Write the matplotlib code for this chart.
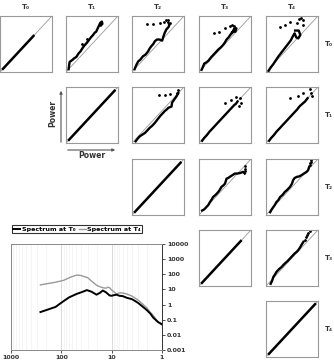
import matplotlib
matplotlib.use('Agg')
import matplotlib.pyplot as plt

# spectrum data (period vs power)
period_t0 = [260, 130, 95, 70, 50, 40, 31, 25, 20, 17, 15, 13, 11, 10, 9, 8, 7, 6, 5, 4, 3.5, 3, 2.5, 2, 1.7, 1.5, 1.3, 1.2, 1.1, 1.0]
power_t0 = [0.32, 0.7, 1.5, 3.0, 5.0, 6.5, 9.0, 7.0, 4.5, 6.0, 8.5, 6.5, 4.0, 3.8, 4.2, 4.5, 3.8, 3.6, 2.8, 2.3, 1.8, 1.3, 0.8, 0.43, 0.25, 0.14, 0.09, 0.07, 0.06, 0.05]
period_t4 = [260, 130, 90, 65, 50, 42, 35, 30, 25, 20, 17, 15, 13, 12, 11, 10, 9, 8, 7, 6, 5, 4, 3.5, 3, 2.5, 2, 1.7, 1.5, 1.3, 1.2, 1.1, 1.0]
power_t4 = [20, 30, 40, 65, 88, 85, 70, 60, 35, 19, 15, 13, 12, 14, 13, 9, 7, 5, 6, 5.8, 5, 3.7, 2.8, 2.0, 1.2, 0.6, 0.3, 0.2, 0.1, 0.075, 0.055, 0.045]

# pairwise power plots, normalised panel units
diag_u = [0.04, 0.95]
p01_u = [0.05, 0.06, 0.07, 0.10, 0.13, 0.15, 0.20, 0.24, 0.28, 0.32, 0.36, 0.40, 0.44, 0.48, 0.52, 0.55, 0.58, 0.60, 0.62, 0.64, 0.66, 0.69, 0.70, 0.67]
p01_v = [0.05, 0.12, 0.18, 0.20, 0.22, 0.24, 0.27, 0.33, 0.37, 0.43, 0.48, 0.52, 0.57, 0.62, 0.66, 0.70, 0.72, 0.76, 0.80, 0.84, 0.88, 0.90, 0.86, 0.83]
p01_du = [0.30, 0.40]
p01_dv = [0.50, 0.59]

p02_u = [0.05, 0.08, 0.12, 0.16, 0.21, 0.26, 0.31, 0.34, 0.37, 0.41, 0.44, 0.48, 0.53, 0.58, 0.60, 0.62, 0.66, 0.70, 0.72, 0.70]
p02_v = [0.05, 0.12, 0.19, 0.22, 0.28, 0.31, 0.37, 0.42, 0.46, 0.50, 0.55, 0.58, 0.58, 0.56, 0.62, 0.68, 0.76, 0.80, 0.84, 0.88]
p02_du = [0.28, 0.41, 0.54, 0.62, 0.66, 0.70, 0.74]
p02_dv = [0.86, 0.86, 0.87, 0.90, 0.93, 0.93, 0.88]

p03_u = [0.05, 0.08, 0.10, 0.14, 0.18, 0.23, 0.28, 0.33, 0.37, 0.42, 0.47, 0.50, 0.53, 0.57, 0.60, 0.63, 0.65, 0.70, 0.72, 0.68, 0.64]
p03_v = [0.04, 0.10, 0.15, 0.17, 0.20, 0.26, 0.31, 0.36, 0.40, 0.44, 0.49, 0.53, 0.58, 0.62, 0.66, 0.70, 0.72, 0.72, 0.78, 0.78, 0.70]
p03_du = [0.29, 0.39, 0.50, 0.60, 0.64, 0.67]
p03_dv = [0.69, 0.72, 0.78, 0.82, 0.84, 0.82]

p04_u = [0.05, 0.09, 0.14, 0.19, 0.24, 0.29, 0.34, 0.39, 0.44, 0.48, 0.50, 0.53, 0.55, 0.58, 0.62, 0.66, 0.63, 0.56]
p04_v = [0.02, 0.08, 0.14, 0.21, 0.28, 0.34, 0.40, 0.46, 0.52, 0.57, 0.61, 0.66, 0.69, 0.62, 0.60, 0.66, 0.74, 0.74]
p04_du = [0.26, 0.37, 0.47, 0.60, 0.64, 0.68, 0.72, 0.72]
p04_dv = [0.80, 0.84, 0.90, 0.87, 0.94, 0.96, 0.92, 0.84]

p12_u = [0.07, 0.11, 0.15, 0.20, 0.25, 0.30, 0.34, 0.39, 0.44, 0.49, 0.54, 0.59, 0.63, 0.67, 0.70, 0.73, 0.76, 0.77, 0.80, 0.83, 0.86, 0.89]
p12_v = [0.03, 0.08, 0.12, 0.15, 0.18, 0.23, 0.27, 0.31, 0.36, 0.42, 0.48, 0.53, 0.57, 0.60, 0.63, 0.64, 0.65, 0.72, 0.76, 0.80, 0.84, 0.89]
p12_du = [0.52, 0.63, 0.73, 0.86, 0.88]
p12_dv = [0.86, 0.86, 0.87, 0.90, 0.94]

p13_u = [0.06, 0.10, 0.15, 0.20, 0.26, 0.32, 0.38, 0.44, 0.50, 0.55, 0.60, 0.64, 0.68, 0.71, 0.74]
p13_v = [0.04, 0.09, 0.14, 0.20, 0.26, 0.32, 0.38, 0.44, 0.50, 0.55, 0.60, 0.64, 0.68, 0.70, 0.74]
p13_du = [0.50, 0.62, 0.72, 0.78, 0.80, 0.76]
p13_dv = [0.72, 0.76, 0.82, 0.80, 0.72, 0.66]

p14_u = [0.06, 0.10, 0.15, 0.20, 0.26, 0.32, 0.38, 0.44, 0.50, 0.55, 0.60, 0.65, 0.70, 0.75, 0.80]
p14_v = [0.04, 0.09, 0.14, 0.20, 0.26, 0.32, 0.38, 0.44, 0.50, 0.55, 0.60, 0.66, 0.70, 0.74, 0.80]
p14_du = [0.46, 0.62, 0.72, 0.84, 0.86, 0.88]
p14_dv = [0.80, 0.84, 0.90, 0.96, 0.90, 0.84]

p23_u = [0.06, 0.10, 0.14, 0.18, 0.21, 0.24, 0.27, 0.32, 0.37, 0.40, 0.43, 0.47, 0.50, 0.53, 0.56, 0.59, 0.64, 0.69, 0.74, 0.79, 0.85, 0.88]
p23_v = [0.08, 0.10, 0.14, 0.18, 0.23, 0.27, 0.32, 0.36, 0.41, 0.45, 0.50, 0.53, 0.56, 0.65, 0.66, 0.68, 0.71, 0.74, 0.74, 0.75, 0.77, 0.74]
p23_du = [0.88, 0.88, 0.89]
p23_dv = [0.79, 0.83, 0.87]

p24_u = [0.08, 0.11, 0.14, 0.17, 0.20, 0.24, 0.27, 0.32, 0.36, 0.41, 0.46, 0.50, 0.52, 0.55, 0.59, 0.64, 0.68, 0.73, 0.78, 0.81, 0.83]
p24_v = [0.05, 0.10, 0.14, 0.18, 0.23, 0.27, 0.32, 0.36, 0.41, 0.45, 0.50, 0.56, 0.62, 0.66, 0.68, 0.69, 0.71, 0.74, 0.77, 0.80, 0.86]
p24_du = [0.84, 0.85, 0.86, 0.87]
p24_dv = [0.89, 0.92, 0.95, 0.98]

p34_u = [0.09, 0.12, 0.14, 0.17, 0.20, 0.25, 0.30, 0.36, 0.41, 0.46, 0.51, 0.55, 0.59, 0.62, 0.65, 0.68, 0.70, 0.72]
p34_v = [0.04, 0.10, 0.16, 0.20, 0.25, 0.30, 0.34, 0.40, 0.44, 0.49, 0.54, 0.58, 0.61, 0.64, 0.68, 0.73, 0.76, 0.79]
p34_du = [0.75, 0.77, 0.79, 0.81, 0.84]
p34_dv = [0.82, 0.87, 0.91, 0.95, 0.99]

diag_ends = {(0, 0): 0.66, (1, 1): 0.95, (2, 2): 0.95, (3, 3): 0.82, (4, 4): 0.96}
pairs = {
    (0, 1): (p01_u, p01_v, p01_du, p01_dv),
    (0, 2): (p02_u, p02_v, p02_du, p02_dv),
    (0, 3): (p03_u, p03_v, p03_du, p03_dv),
    (0, 4): (p04_u, p04_v, p04_du, p04_dv),
    (1, 2): (p12_u, p12_v, p12_du, p12_dv),
    (1, 3): (p13_u, p13_v, p13_du, p13_dv),
    (1, 4): (p14_u, p14_v, p14_du, p14_dv),
    (2, 3): (p23_u, p23_v, p23_du, p23_dv),
    (2, 4): (p24_u, p24_v, p24_du, p24_dv),
    (3, 4): (p34_u, p34_v, p34_du, p34_dv),
}
labels = ['T\u2080', 'T\u2081', 'T\u2082', 'T\u2083', 'T\u2084']

W, H = 334, 362
fig = plt.figure(figsize=(W / 100, H / 100), dpi=100)

col_left = [0, 66, 132, 199, 266]
row_top = [16, 87, 159, 230, 301]
pw, ph = 52, 56

for r in range(5):
    for c in range(r, 5):
        ax = fig.add_axes([col_left[c] / W, 1 - (row_top[r] + ph) / H, pw / W, ph / H])
        ax.plot([0, 1], [0, 1], color='#999999', lw=0.6)
        if r == c:
            e = diag_ends[(r, c)]
            ax.plot([diag_u[0], e], [diag_u[0], e], color='black', lw=1.8, solid_capstyle='butt')
        else:
            u, v, du, dv = pairs[(r, c)]
            ax.plot(u, v, color='black', lw=1.7)
            ax.plot(du, dv, 'o', color='black', ms=1.0)
        ax.set_xlim(0, 1)
        ax.set_ylim(0, 1)
        ax.set_xticks([])
        ax.set_yticks([])
        for s in ax.spines.values():
            s.set_color('#999999')
            s.set_linewidth(0.8)

for c in range(5):
    fig.text((col_left[c] + pw / 2) / W, 1 - 7 / H, labels[c], ha='center', va='center',
             fontsize=5, fontweight='bold', color='#333333')
for r in range(5):
    fig.text(329 / W, 1 - (row_top[r] + ph / 2) / H, labels[r], ha='center', va='center',
             fontsize=5, fontweight='bold', color='#333333')

# "Power" axis arrows
fig.add_artist(matplotlib.patches.FancyArrowPatch((61 / W, 1 - 145 / H), (61 / W, 1 - 88 / H),
               transform=fig.transFigure, arrowstyle='-|>', mutation_scale=4, color='#555555', lw=0.8))
fig.add_artist(matplotlib.patches.FancyArrowPatch((65 / W, 1 - 150 / H), (118 / W, 1 - 150 / H),
               transform=fig.transFigure, arrowstyle='-|>', mutation_scale=4, color='#555555', lw=0.8))
fig.text(53 / W, 1 - 113 / H, 'Power', rotation=90, ha='center', va='center', fontsize=5.5,
         fontweight='bold', color='#333333')
fig.text(92 / W, 1 - 156 / H, 'Power', ha='center', va='center', fontsize=5.5,
         fontweight='bold', color='#333333')

# spectrum chart
ax = fig.add_axes([11 / W, 1 - 350 / H, 151 / W, 106 / H])
ax.plot(period_t4, power_t4, color='#999999', lw=1.0, label='Spectrum at T\u2084')
ax.plot(period_t0, power_t0, color='black', lw=1.4, label='Spectrum at T\u2080')
ax.set_xscale('log')
ax.set_yscale('log')
ax.set_xlim(1000, 1)
ax.set_ylim(0.001, 10000)
ax.yaxis.tick_right()
ax.set_yticks([0.001, 0.01, 0.1, 1, 10, 100, 1000, 10000])
ax.set_yticklabels(['0.001', '0.01', '0.1', '1', '10', '100', '1000', '10000'])
ax.set_xticks([1000, 100, 10, 1])
ax.set_xticklabels(['1000', '100', '10', '1'])
ax.yaxis.set_minor_locator(matplotlib.ticker.NullLocator())
ax.tick_params(axis='both', which='major', labelsize=4.5, length=2, width=0.6, pad=1.5, colors='#333333')
ax.tick_params(axis='x', which='minor', length=0)
for t in ax.get_xticklabels() + ax.get_yticklabels():
    t.set_fontweight('bold')
ax.grid(True, which='major', axis='x', color='#cccccc', lw=0.5)
ax.grid(True, which='minor', axis='x', color='#eeeeee', lw=0.4)
for s in ['left', 'top', 'bottom']:
    ax.spines[s].set_color('#888888')
    ax.spines[s].set_linewidth(0.7)
ax.spines['right'].set_color('#333333')
ax.spines['right'].set_linewidth(0.7)

h, l = ax.get_legend_handles_labels()
leg = fig.legend(h[::-1], l[::-1], loc='center', bbox_to_anchor=(77 / W, 1 - 229 / H), ncol=2,
                 frameon=True, fancybox=False, handlelength=1.1, handletextpad=0.25,
                 columnspacing=0.5, borderpad=0.25, borderaxespad=0,
                 prop={'weight': 'bold', 'size': 4.6})
leg.get_frame().set_edgecolor('black')
leg.get_frame().set_linewidth(0.8)

plt.savefig('out.png', dpi=100)
